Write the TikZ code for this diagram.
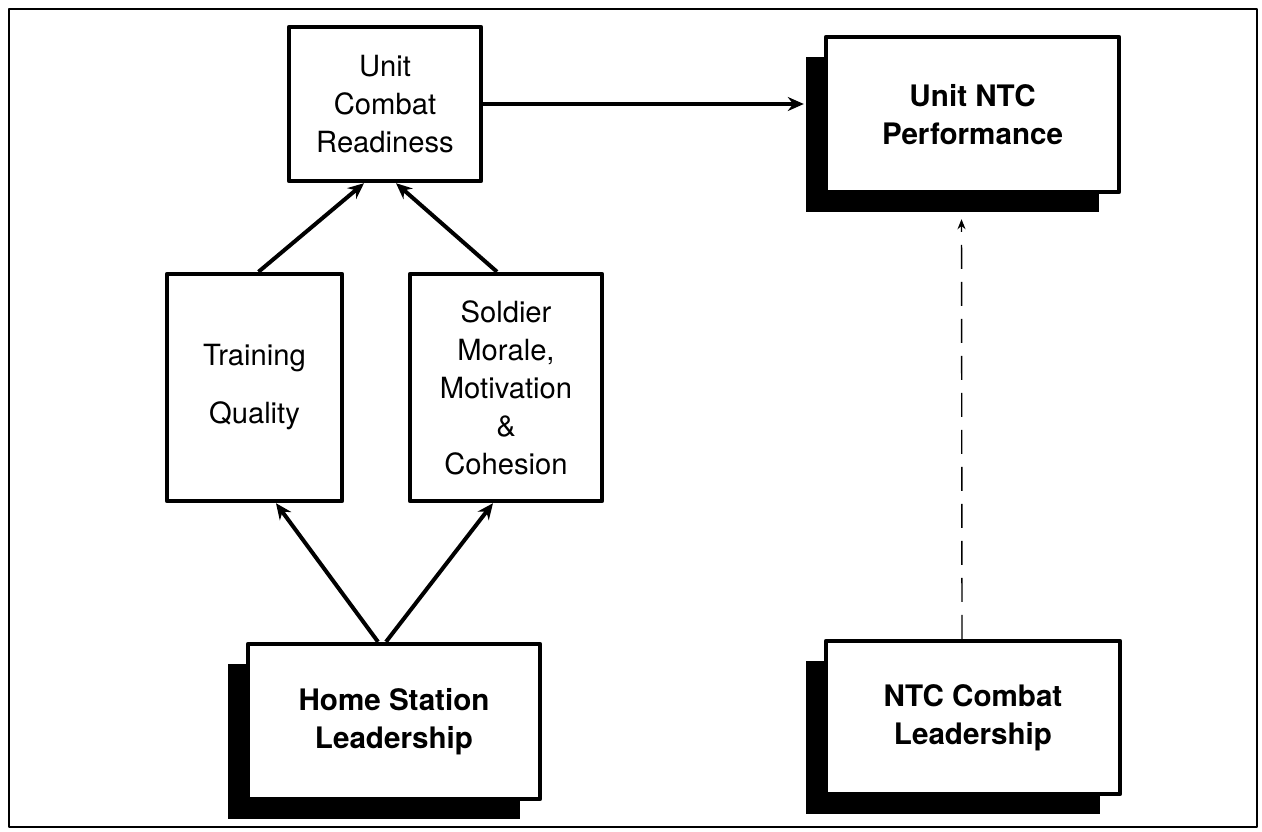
\documentclass[tikz,border=0pt]{standalone}
\usepackage{fontspec}
\setmainfont{TeX Gyre Heros}
\usetikzlibrary{arrows.meta,shadows}

\begin{document}
\begin{tikzpicture}[x=0.5pt, y=-0.5pt, line join=round, >={Stealth[length=8pt,width=7pt]},
	factor/.style={draw, fill=white, line width=2.2pt, align=center, inner sep=0pt,
		font=\fontsize{14.6}{19}\selectfont},
	shadowed/.style={factor, font=\fontsize{14.8}{19}\selectfont\bfseries,
		drop shadow={shadow xshift=-10pt, shadow yshift=-10pt, fill=black, opacity=1}},
	link/.style={->, line width=2pt}]
	\useasboundingbox (0,0) rectangle (1262,831);
	\draw[line width=1pt] (9,9) rectangle (1257,827);
	
	% boxes
	\node[factor, minimum width=96pt, minimum height=77pt] (ucr) at (385,104) {Unit\\Combat\\Readiness};
	\node[factor, minimum width=87.5pt, minimum height=113.5pt] (tq) at (254.5,387.5) {Training\\[10pt]Quality};
	\node[factor, minimum width=96pt, minimum height=113.5pt] (sm) at (506,387.5) {Soldier\\Morale,\\Motivation\\\&\\Cohesion};
	\node[shadowed, minimum width=146pt, minimum height=77.5pt] (hsl) at (394,721.5) {Home Station\\Leadership};
	\node[shadowed, minimum width=146.5pt, minimum height=77.5pt] (unp) at (972.5,114.5) {Unit NTC\\Performance};
	\node[shadowed, minimum width=147pt, minimum height=76.5pt] (ntc) at (973,717.5) {NTC Combat\\Leadership};
	
	% links
	\draw[link] (ucr.east) -- ([xshift=-10pt]ucr.east -| unp.west);
	\draw[link] ([xshift=2pt]tq.north) -- ([xshift=-10.5pt]ucr.south);
	\draw[link] ([xshift=-4.5pt]sm.north) -- ([xshift=5.5pt]ucr.south);
	\draw[link] ([xshift=-8pt]hsl.north) -- ([xshift=10.75pt]tq.south);
	\draw[link] ([xshift=-4pt]hsl.north) -- ([xshift=-6.5pt]sm.south);
	\draw[-{Stealth[length=5pt,width=4pt]}, line width=0.7pt, dash pattern=on 12pt off 6.5pt]
		([xshift=-5.5pt]ntc.north) -- ([xshift=-5.5pt,yshift=-12.5pt]unp.south);
\end{tikzpicture}
\end{document}
